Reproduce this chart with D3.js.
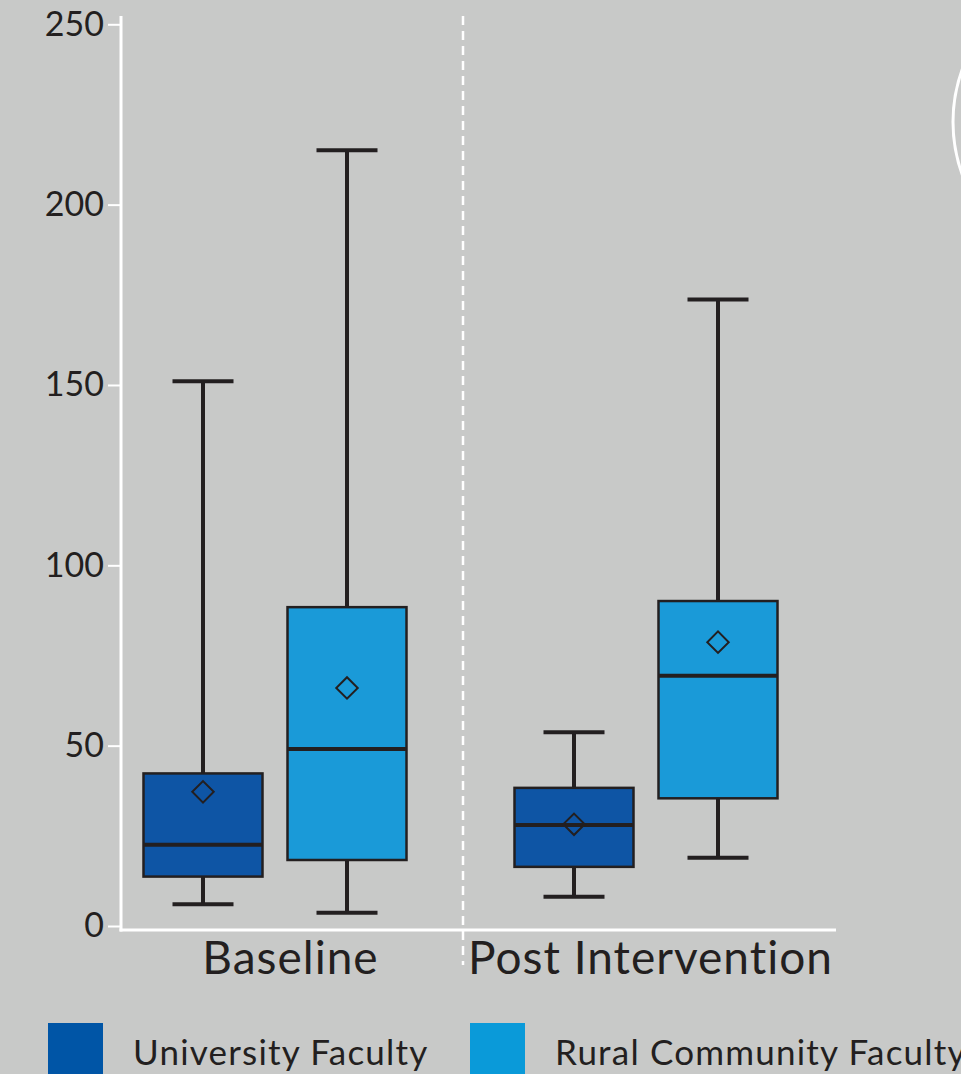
<!DOCTYPE html>
<html>
<head>
<meta charset="utf-8">
<script src="https://cdn.jsdelivr.net/npm/d3@7"></script>
<style>
  html, body { margin: 0; padding: 0; background: #c8c9c8; overflow: hidden; }
  svg text { font-family: Lato, "Noto Sans", sans-serif; fill: #231f20; }
</style>
</head>
<body>
<div id="chart"></div>
<script>
// groups on the x axis and the two series
const groups = ["Baseline", "Post Intervention"];
const series = ["University Faculty", "Rural Community Faculty"];
const seriesColors = ["#0e55a5", "#1a9ad8"];
const legendColors = ["#0055a6", "#0a9ad9"];
const yTicks = [0, 50, 100, 150, 200, 250];

// box stats, one array per stat, order: [Baseline Univ, Baseline Rural, Post Univ, Post Rural]
const whiskerLow  = [6.0, 3.7, 8.1, 18.9];
const q1          = [13.7, 18.3, 16.4, 35.4];
const median      = [22.5, 49.1, 28.0, 69.4];
const q3          = [42.3, 88.4, 38.3, 90.1];
const whiskerHigh = [151.0, 215.1, 53.7, 173.7];
const means       = [37.2, 66.0, 28.2, 78.7];

let boxes = [];
groups.forEach((g, gi) => {
    series.forEach((s, si) => {
        let i = gi * series.length + si;
        boxes.push({ group: g, series: s, si: si,
            lo: whiskerLow[i], q1: q1[i], med: median[i], q3: q3[i], hi: whiskerHigh[i], mean: means[i] });
    });
});

const width = 961, height = 1074;
const ink = "#231f20";

let svg = d3.select("#chart").append("svg")
    .attr("width", width)
    .attr("height", height);

// escalas
let y = d3.scaleLinear().domain([0, 250]).range([926, 24.3]);
let x0 = d3.scalePoint().domain(groups).range([275, 646]);
let x1 = d3.scalePoint().domain(series).range([-72, 72]);
let boxW = 119, capW = 61;

const axisLeft = 121, axisRight = 836, axisY = 930;

// separator between the two groups
svg.append("line")
    .attr("x1", 463).attr("x2", 463)
    .attr("y1", 16).attr("y2", 965)
    .attr("stroke", "#fff")
    .attr("stroke-width", 2.5)
    .attr("stroke-dasharray", "9,6");

// y axis
let gy = svg.append("g")
    .attr("transform", `translate(${axisLeft},0)`)
    .call(d3.axisLeft(y).tickValues(yTicks).tickSize(13).tickPadding(4).tickSizeOuter(0));
gy.select(".domain").remove();
gy.selectAll(".tick line").attr("stroke", "#fff").attr("stroke-width", 2);
gy.selectAll(".tick text")
    .attr("font-size", 34)
    .attr("font-family", null)
    .attr("fill", ink);

svg.append("line")
    .attr("x1", axisLeft).attr("x2", axisLeft)
    .attr("y1", 16).attr("y2", axisY + 1.5)
    .attr("stroke", "#fff").attr("stroke-width", 3);

// x axis
svg.append("line")
    .attr("x1", axisLeft - 1.5).attr("x2", axisRight)
    .attr("y1", axisY).attr("y2", axisY)
    .attr("stroke", "#fff").attr("stroke-width", 3);

let gx = svg.append("g")
    .attr("transform", `translate(0,${axisY})`)
    .call(d3.axisBottom(x0).tickSize(0).tickPadding(8));
gx.select(".domain").remove();
gx.selectAll(".tick text")
    .attr("font-size", 46)
    .attr("font-family", null)
    .attr("letter-spacing", 1)
    .attr("fill", ink)
    .attr("dy", "0.78em")
    .attr("dx", (d, i) => i == 0 ? 15 : 4);

// boxes
let bx = svg.append("g").selectAll("g")
    .data(boxes)
    .enter()
    .append("g")
    .attr("transform", d => `translate(${x0(d.group) + x1(d.series)},0)`);

// whisker stems
bx.append("line")
    .attr("x1", 0).attr("x2", 0)
    .attr("y1", d => y(d.hi)).attr("y2", d => y(d.q3))
    .attr("stroke", ink).attr("stroke-width", 4);
bx.append("line")
    .attr("x1", 0).attr("x2", 0)
    .attr("y1", d => y(d.q1)).attr("y2", d => y(d.lo))
    .attr("stroke", ink).attr("stroke-width", 4);

// caps
["hi", "lo"].forEach(k => {
    bx.append("line")
        .attr("x1", -capW / 2).attr("x2", capW / 2)
        .attr("y1", d => y(d[k])).attr("y2", d => y(d[k]))
        .attr("stroke", ink).attr("stroke-width", 4);
});

bx.append("rect")
    .attr("x", -boxW / 2)
    .attr("width", boxW)
    .attr("y", d => y(d.q3))
    .attr("height", d => y(d.q1) - y(d.q3))
    .attr("fill", d => seriesColors[d.si])
    .attr("stroke", ink)
    .attr("stroke-width", 2.5);

bx.append("line")
    .attr("x1", -boxW / 2).attr("x2", boxW / 2)
    .attr("y1", d => y(d.med)).attr("y2", d => y(d.med))
    .attr("stroke", ink).attr("stroke-width", 4);

// mean diamond
bx.append("path")
    .attr("d", d3.symbol(d3.symbolSquare, 230)())
    .attr("transform", d => `translate(0,${y(d.mean)}) rotate(45)`)
    .attr("fill", "none")
    .attr("stroke", ink)
    .attr("stroke-width", 2);

// legend
let lg = svg.append("g").selectAll("g")
    .data(series)
    .enter()
    .append("g")
    .attr("transform", (d, i) => `translate(${[48, 470][i]},1023)`);

lg.append("rect")
    .attr("width", 55).attr("height", 55)
    .attr("fill", (d, i) => legendColors[i]);

lg.append("text")
    .attr("x", 85)
    .attr("y", 42)
    .attr("font-size", 35)
    .attr("letter-spacing", 1.2)
    .text(d => d);

// pedazo de circulo que asoma a la derecha
svg.append("circle")
    .attr("cx", 1108).attr("cy", 122).attr("r", 155)
    .attr("fill", "none")
    .attr("stroke", "#fff")
    .attr("stroke-width", 3);
</script>
</body>
</html>
